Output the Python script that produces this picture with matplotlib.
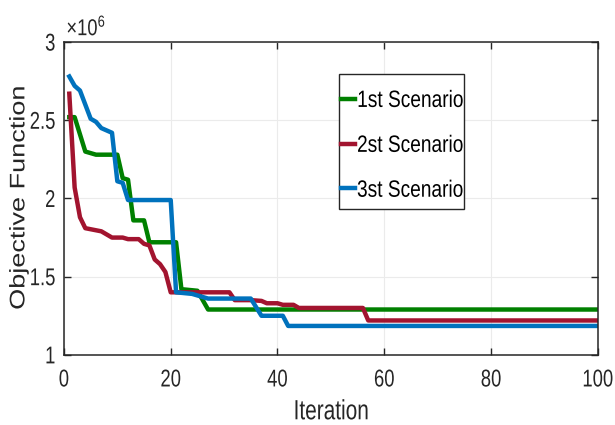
import matplotlib
matplotlib.use("Agg")
import matplotlib.pyplot as plt
from matplotlib.ticker import FuncFormatter
from matplotlib.patches import Rectangle
from matplotlib.patheffects import AbstractPathEffect
from matplotlib.transforms import Affine2D

# values (objective in units of 1e6)
it_1 = [1, 2, 4, 6, 10, 11, 12, 13, 15, 16, 21, 22, 25, 27, 100]
obj_1 = [2.52, 2.52, 2.30, 2.28, 2.28, 2.13, 2.12, 1.86, 1.86, 1.72, 1.72, 1.42, 1.41, 1.29, 1.29]

it_2 = [1, 2, 3, 4, 7, 8, 9, 11, 12, 14, 15, 16, 17, 18, 19, 20,
        31, 32, 35, 37, 38, 40, 41, 43, 44, 56, 57, 100]
obj_2 = [2.67, 2.07, 1.88, 1.81, 1.79, 1.77, 1.75, 1.75, 1.74, 1.74, 1.71, 1.70, 1.61, 1.58, 1.53, 1.40,
         1.40, 1.35, 1.35, 1.345, 1.33, 1.33, 1.32, 1.32, 1.30, 1.30, 1.22, 1.22]

it_3 = [1, 2, 3, 5, 6, 7, 9, 10, 11, 12, 20, 21, 24, 27, 35, 37, 41, 42, 100]
obj_3 = [2.78, 2.72, 2.69, 2.51, 2.49, 2.45, 2.42, 2.11, 2.10, 1.99, 1.99, 1.40, 1.39, 1.36, 1.36, 1.25, 1.25, 1.185, 1.185]

labels = ["1st Scenario", "2st Scenario", "3st Scenario"]
colors = ["#008000", "#A2142F", "#0072BD"]
ink = "#262626"


class Squeeze(AbstractPathEffect):
    """Squash text horizontally (the reference figure was stretched narrow)."""

    def __init__(self, sx=0.78, anchor="center"):
        super().__init__()
        self.sx = sx
        self.anchor = anchor

    def draw_path(self, renderer, gc, tpath, affine, rgbFace=None):
        bb = tpath.get_extents(affine)
        x0 = {"left": bb.x0, "center": (bb.x0 + bb.x1) / 2, "right": bb.x1}[self.anchor]
        sq = Affine2D().translate(-x0, 0).scale(self.sx, 1).translate(x0, 0)
        renderer.draw_path(gc, tpath, affine + sq, rgbFace)


plt.rcParams["font.family"] = ["Liberation Sans", "DejaVu Sans"]
plt.rcParams["mathtext.fontset"] = "custom"
plt.rcParams["mathtext.rm"] = "Liberation Sans"
plt.rcParams["mathtext.it"] = "Liberation Sans"

fig = plt.figure(figsize=(6.15, 4.25), dpi=100)
ax = fig.add_axes([0.104, 0.165, 0.868, 0.736])

series = [(it_1, obj_1), (it_2, obj_2), (it_3, obj_3)]
for (x, y), lab, c in zip(series, labels, colors):
    ax.plot(x, [v * 1e6 for v in y], color=c, lw=3.2, label=lab, solid_joinstyle="round")

ax.set_xlim(0, 100)
ax.set_ylim(1e6, 3e6)
ax.set_xticks(range(0, 101, 20))
ax.set_yticks([1e6, 1.5e6, 2e6, 2.5e6, 3e6])
ax.yaxis.set_major_formatter(FuncFormatter(lambda v, _: f"{v / 1e6:g}"))

ax.grid(True, color="#ebebeb", lw=0.8)
ax.tick_params(direction="in", length=5, width=1, top=True, right=True,
               labelsize=17.5, colors=ink)
ax.tick_params(axis="x", pad=10.5)
ax.tick_params(axis="y", pad=6)
for s in ax.spines.values():
    s.set_color(ink)
    s.set_linewidth(1.1)

for t in ax.get_xticklabels():
    t.set_path_effects([Squeeze(0.76, "center")])
for t in ax.get_yticklabels():
    t.set_path_effects([Squeeze(0.76, "right")])

xl = ax.set_xlabel("Iteration", fontsize=20, color=ink)
xl.set_path_effects([Squeeze(0.75, "center")])
ax.xaxis.set_label_coords(0.5, -0.142)

yl = ax.set_ylabel("Objective Function", fontsize=19.5, color=ink)
yl.set_path_effects([Squeeze(0.78, "center")])
ax.yaxis.set_label_coords(-0.06, 0.503)

off = ax.text(0.004, 1.022, r"$\times10^{6}$", transform=ax.transAxes, fontsize=16.5,
              color=ink, ha="left", va="baseline")
off.set_path_effects([Squeeze(0.8, "left")])

# legend box drawn separately so the padding matches the reference
ax.add_patch(Rectangle((0.515, 0.4665), 0.234, 0.431, transform=ax.transAxes,
                       facecolor="white", edgecolor=ink, lw=1.0, zorder=4))
leg = ax.legend(loc="upper left", bbox_to_anchor=(0.519, 0.847), fontsize=17,
                handlelength=0.6, handletextpad=0.07, labelspacing=0.97,
                borderpad=0, borderaxespad=0, frameon=False)
leg.set_zorder(5)
for t in leg.get_texts():
    t.set_path_effects([Squeeze(0.81, "left")])

fig.savefig("out.png", dpi=100)
